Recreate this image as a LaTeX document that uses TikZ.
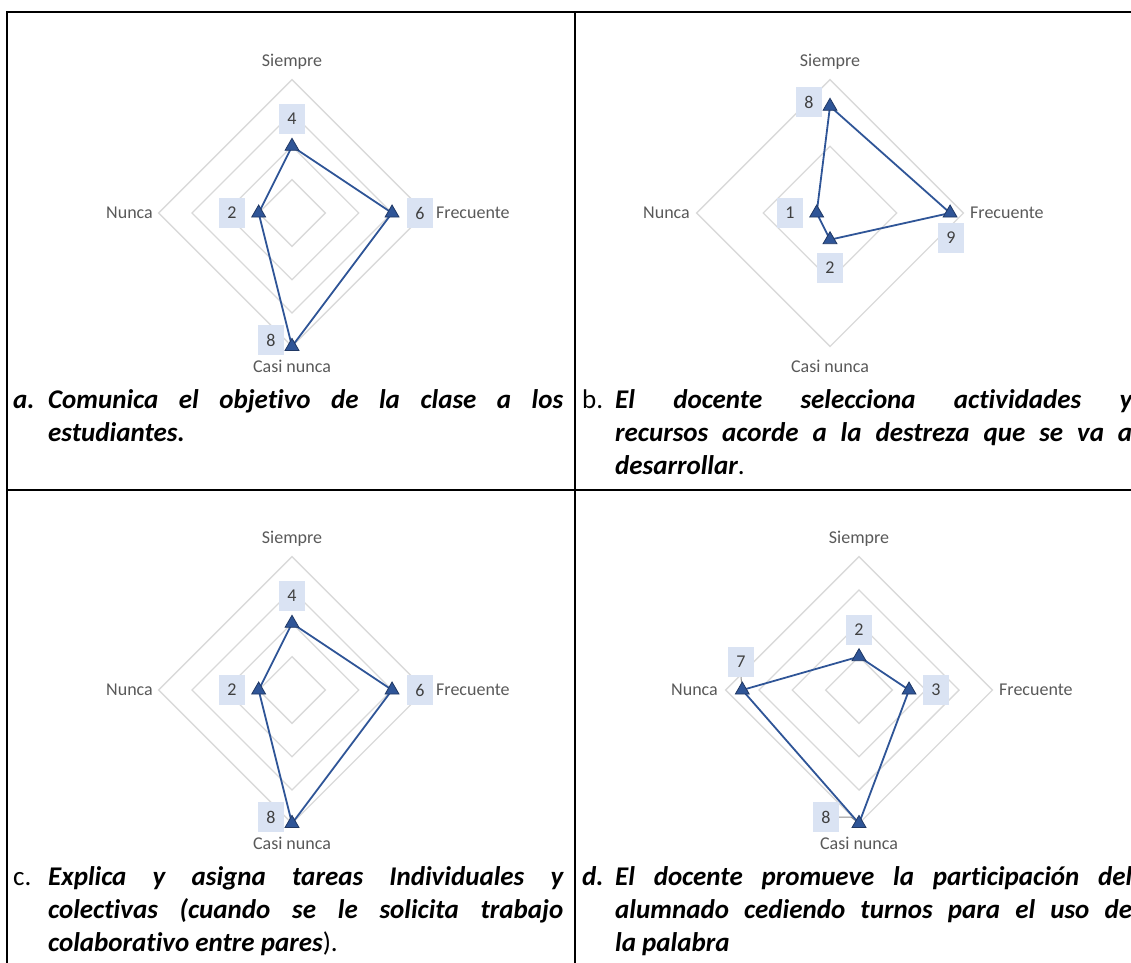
\documentclass[tikz,border=0pt]{standalone}
\usepackage{fontspec}
\setmainfont{Carlito}[Ligatures=NoCommon]
\usetikzlibrary{shapes.geometric}
\definecolor{gridgray}{HTML}{D9D9D9}
\definecolor{axisgray}{HTML}{595959}
\definecolor{numgray}{HTML}{404040}
\definecolor{lblfill}{HTML}{DAE3F3}
\definecolor{serie}{HTML}{2F5597}
\definecolor{seriedark}{HTML}{203864}

\begin{document}
\begin{tikzpicture}[x=1pt,y=-1pt]
        \tikzstyle{every node}=[inner sep=0pt]
        \tikzstyle{axis}=[text=axisgray,font=\fontsize{18}{20}\selectfont]
        \tikzstyle{val}=[fill=lblfill,text=numgray,font=\fontsize{18}{20}\selectfont,minimum width=26pt,minimum height=30pt]
        \tikzstyle{tri}=[regular polygon,regular polygon sides=3,fill=serie,draw=seriedark,line width=0.8pt,minimum size=16pt]
        \tikzstyle{serieline}=[serie,line width=1.8pt,line join=round]
        \tikzstyle{ring}=[gridgray,line width=1.3pt]
        \tikzstyle{leader}=[black!45,line width=1pt]
        \tikzstyle{capt}=[font=\fontsize{27}{33}\selectfont,align=justify,anchor=north west]
        \useasboundingbox (0,0) rectangle (1131,962);
        \clip (0,0) rectangle (1131,962);
        % table
        \draw[line width=2pt] (7,12) rectangle (1145,985);
        \draw[line width=2pt] (575,12) -- (575,985);
        \draw[line width=2pt] (7,490) -- (1145,490);
        % a. (max 8)
        \begin{scope}[shift={(292,213)}]
            \def\u{16.675}
            \foreach \r in {1,...,4} \draw[ring] (0,-2*\r*\u) -- (2*\r*\u,0) -- (0,2*\r*\u) -- (-2*\r*\u,0) -- cycle;
            \node[axis] (aSl) at (0,-151) {Siempre};
            \node[axis] (aCl) at (0,153) {Casi nunca};
            \node[axis,anchor=west] (aFl) at (144,0) {Frecuente};
            \node[axis,anchor=east] (aNl) at (-139,0) {Nunca};
            \coordinate (aS) at (0,-4*\u);
            \coordinate (aF) at (6*\u,0);
            \coordinate (aC) at (0,8*\u);
            \coordinate (aN) at (-2*\u,0);
            \draw[serieline] (aS) -- (aF) -- (aC) -- (aN) -- cycle;
            \foreach \p in {aS,aF,aC,aN} \node[tri] (\p m) at (\p) {};
            \node[val] (aSv) at (0,-94) {4};
            \node[val] (aFv) at (128,0) {6};
            \node[val] (aCv) at (-21,127) {8};
            \node[val] (aNv) at (-60,0) {2};
        \end{scope}
        % b. (max 10)
        \begin{scope}[shift={(830,213)}]
            \def\u{13.34}
            \foreach \r in {1,2} \draw[ring] (0,-5*\r*\u) -- (5*\r*\u,0) -- (0,5*\r*\u) -- (-5*\r*\u,0) -- cycle;
            \node[axis] (bSl) at (0,-151) {Siempre};
            \node[axis] (bCl) at (0,153) {Casi nunca};
            \node[axis,anchor=west] (bFl) at (140,0) {Frecuente};
            \node[axis,anchor=east] (bNl) at (-140,0) {Nunca};
            \coordinate (bS) at (0,-8*\u);
            \coordinate (bF) at (9*\u,0);
            \coordinate (bC) at (0,2*\u);
            \coordinate (bN) at (-1*\u,0);
            \draw[serieline] (bS) -- (bF) -- (bC) -- (bN) -- cycle;
            \foreach \p in {bS,bF,bC,bN} \node[tri] (\p m) at (\p) {};
            \node[val] (bSv) at (-21,-111) {8};
            \node[val] (bFv) at (121,25) {9};
            \node[val] (bCv) at (0,55) {2};
            \node[val] (bNv) at (-40,0) {1};
        \end{scope}
        % c. (max 8)
        \begin{scope}[shift={(292,690)}]
            \def\u{16.675}
            \foreach \r in {1,...,4} \draw[ring] (0,-2*\r*\u) -- (2*\r*\u,0) -- (0,2*\r*\u) -- (-2*\r*\u,0) -- cycle;
            \node[axis] (cSl) at (0,-151) {Siempre};
            \node[axis] (cCl) at (0,153) {Casi nunca};
            \node[axis,anchor=west] (cFl) at (144,0) {Frecuente};
            \node[axis,anchor=east] (cNl) at (-139,0) {Nunca};
            \coordinate (cS) at (0,-4*\u);
            \coordinate (cF) at (6*\u,0);
            \coordinate (cC) at (0,8*\u);
            \coordinate (cN) at (-2*\u,0);
            \draw[serieline] (cS) -- (cF) -- (cC) -- (cN) -- cycle;
            \foreach \p in {cS,cF,cC,cN} \node[tri] (\p m) at (\p) {};
            \node[val] (cSv) at (0,-94) {4};
            \node[val] (cFv) at (128,0) {6};
            \node[val] (cCv) at (-21,127) {8};
            \node[val] (cNv) at (-60,0) {2};
        \end{scope}
        % d. (max 8)
        \begin{scope}[shift={(859,690)}]
            \def\u{16.675}
            \foreach \r in {1,...,4} \draw[ring] (0,-2*\r*\u) -- (2*\r*\u,0) -- (0,2*\r*\u) -- (-2*\r*\u,0) -- cycle;
            \node[axis] (dSl) at (0,-151) {Siempre};
            \node[axis] (dCl) at (0,153) {Casi nunca};
            \node[axis,anchor=west] (dFl) at (140,0) {Frecuente};
            \node[axis,anchor=east] (dNl) at (-141,0) {Nunca};
            \coordinate (dS) at (0,-2*\u);
            \coordinate (dF) at (3*\u,0);
            \coordinate (dC) at (0,8*\u);
            \coordinate (dN) at (-7*\u,0);
            \node[val] (dSv) at (0,-60) {2};
            \node[val] (dFv) at (77,0) {3};
            \node[val] (dCv) at (-33,127) {8};
            \node[val] (dNv) at (-118,-28) {7};
            \coordinate (dCk) at (-8,127);
            \draw[leader] (dNv.south) -- (dN);
            \draw[leader] (dCv.east) -- (dCk) -- (dC);
            \draw[serieline] (dS) -- (dF) -- (dC) -- (dN) -- cycle;
            \foreach \p in {dS,dF,dC,dN} \node[tri] (\p m) at (\p) {};
        \end{scope}
        % captions
        \node[capt,text width=515pt] (capa) at (48,389) {\noindent\llap{\makebox[35pt][l]{\bfseries\itshape a.}}\bfseries\itshape Comunica el objetivo de la clase a los\linebreak estudiantes.};
        \node[capt,text width=517pt] (capb) at (615,389) {\noindent\llap{\makebox[33pt][l]{b.}}{\bfseries\itshape El docente selecciona actividades y\linebreak recursos acorde a la destreza que se va a\linebreak desarrollar}.};
        \node[capt,text width=515pt] (capc) at (48,866) {\noindent\llap{\makebox[35pt][l]{c.}}{\bfseries\itshape Explica y asigna tareas Individuales y\linebreak colectivas (cuando se le solicita trabajo\linebreak colaborativo entre pares}).};
        \node[capt,text width=517pt] (capd) at (615,866) {\noindent\llap{\makebox[33pt][l]{\bfseries\itshape d.}}\bfseries\itshape El docente promueve la participación del\linebreak alumnado cediendo turnos para el uso de\linebreak la palabra};
\end{tikzpicture}
\end{document}
